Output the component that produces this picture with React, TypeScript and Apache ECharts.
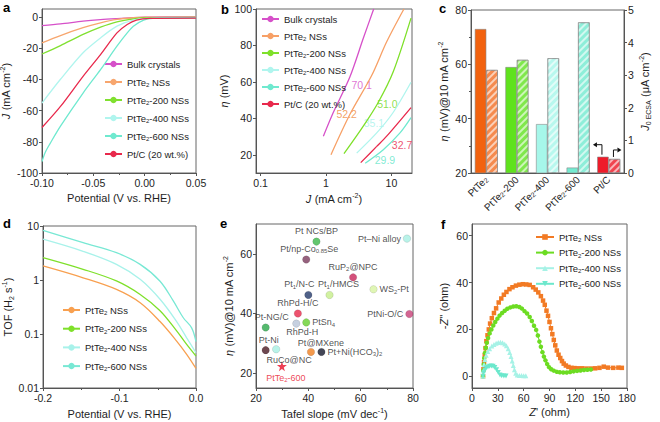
import React, { useEffect, useRef } from 'react';
import * as echarts from 'echarts';

const FONT = '"Liberation Sans", Arial, Helvetica, sans-serif';
const TXT = '#1e1e1e';
const AX = '#555555';

// ---------- Panel a: LSV curves [potential V vs RHE, J mA cm-2]
const aNames = ['Bulk crystals', 'PtTe{sub|2} NSs', 'PtTe{sub|2}-200 NSs', 'PtTe{sub|2}-400 NSs', 'PtTe{sub|2}-600 NSs', 'Pt/C (20 wt.%)'];
const aColors = ['#d650c9', '#f7a66e', '#80e030', '#b0f5ee', '#6fe9cf', '#e8294c'];
const aBulk = [[-0.1, -5.6], [-0.082, -4.5], [-0.06, -2.8], [-0.043, -1.8], [-0.027, -1.1], [-0.011, -0.5], [0, -0.2], [0.02, -0.05], [0.05, 0]];
const aPtTe2 = [[-0.1, -16.7], [-0.082, -12], [-0.06, -7], [-0.043, -3.9], [-0.027, -1.7], [-0.011, -0.6], [0.002, -0.2], [0.05, -0.2]];
const a200 = [[-0.1, -23.8], [-0.082, -18.4], [-0.06, -11.3], [-0.043, -6.6], [-0.027, -3.2], [-0.011, -1.3], [0.002, -0.6], [0.05, -0.4]];
const a400 = [[-0.1, -55.2], [-0.082, -40], [-0.06, -23], [-0.043, -13.5], [-0.027, -6], [-0.011, -2.1], [0.002, -1], [0.05, -0.6]];
const a600 = [[-0.1, -92.7], [-0.097, -87], [-0.092, -81], [-0.082, -70], [-0.06, -48.8], [-0.043, -33.8], [-0.027, -18.8], [-0.017, -10.3], [-0.011, -6], [-0.001, -2.1], [0.008, -1], [0.05, -0.6]];
const aPtC = [[-0.1, -70.9], [-0.082, -57.4], [-0.06, -38.1], [-0.043, -24.2], [-0.027, -10.3], [-0.017, -4.9], [-0.008, -2.1], [0.005, -1], [0.05, -0.8]];
const aData = [aBulk, aPtTe2, a200, a400, a600, aPtC];
const aYTicks = [-100, -80, -60, -40, -20, 0];

// ---------- Panel b: Tafel plots [J mA cm-2, overpotential mV]
const bColors = ['#d650c9', '#f7a066', '#7ee02a', '#b0f5ee', '#6fe9cf', '#e8294c'];
const bBulk = [[0.91, 30.2], [1.29, 43.2], [2.32, 62.8], [3.71, 83.9], [5.35, 100]];
const bPtTe2 = [[1.19, 20], [2.32, 42.2], [4.98, 63.5], [8.45, 82], [15.5, 100]];
const b200 = [[1.88, 20.6], [3.71, 35.7], [6.27, 48.7], [10.6, 65.4], [19.9, 95]];
const b400 = [[2.94, 20.9], [5.95, 32], [10.6, 43.2], [19.9, 59.8]];
const b600 = [[3.97, 15.4], [7.5, 22.8], [13.5, 32], [19.9, 40.4]];
const bPtC = [[3.39, 15.7], [5.95, 24.6], [8.45, 30.2], [19.9, 45.9]];
const bData = [bBulk, bPtTe2, b200, b400, b600, bPtC];
const bNotes = ['70.1', '52.2', '51.0', '35.1', '32.7', '29.9'];
const bNoteJ = [3.51, 2.07, 8.65, 5.4, 14.5, 7.96];
const bNoteEta = [58.3, 42.2, 47.8, 37.2, 25.6, 17.2];
const bNoteColors = ['#d650c9', '#f08a3a', '#6fd81a', '#a6f2ea', '#e8294c', '#5fe6c8'];
const bXTicks = [0.1, 1, 10];
const bYTicks = [20, 40, 60, 80, 100];

// ---------- Panel c: bars
const cCats = ['PtTe{sub|2}', 'PtTe{sub|2}-200', 'PtTe{sub|2}-400', 'PtTe{sub|2}-600', 'Pt/C'];
const cEta = [73, 59, 38, 22, 26];
const cJ0 = [3.16, 3.47, 3.52, 4.62, 0.43];
const cColors = ['#f2620f', '#5fe21d', '#a6f7ea', '#74ead0', '#ee1c2a'];
const cHatch = ['#f58a4e', '#80e84c', '#b8f8ee', '#8eeed9', '#f0444f'];

// ---------- Panel d: TOF [potential V vs RHE, TOF H2 s-1]
const dNames = ['PtTe{sub|2} NSs', 'PtTe{sub|2}-200 NSs', 'PtTe{sub|2}-400 NSs', 'PtTe{sub|2}-600 NSs'];
const dColors = ['#f8a050', '#7ee02a', '#a8f2ea', '#78e8d4'];
const dPtTe2 = [[-0.2, 1.82], [-0.1476, 1.1], [-0.104, 0.67], [-0.073, 0.38], [-0.047, 0.17], [-0.0253, 0.074], [-0.0122, 0.042], [0, 0.023]];
const d200 = [[-0.2, 2.6], [-0.1476, 1.58], [-0.104, 0.96], [-0.073, 0.54], [-0.047, 0.27], [-0.0253, 0.114], [-0.0122, 0.064], [0, 0.039]];
const d400 = [[-0.2, 5.7], [-0.1476, 3.4], [-0.104, 1.95], [-0.073, 1.03], [-0.047, 0.44], [-0.0253, 0.17], [-0.0122, 0.085], [0, 0.045]];
const d600 = [[-0.2, 8.3], [-0.1476, 4.9], [-0.104, 3.2], [-0.073, 1.95], [-0.047, 0.95], [-0.0297, 0.41], [-0.0166, 0.2], [-0.0057, 0.13], [0, 0.072]];
const dData = [dPtTe2, d200, d400, d600];

// ---------- Panel e: Tafel slope vs overpotential comparison
const eLabels = ['Pt NCs/BP', 'Pt/np-Co{sub|0.85}Se', 'Pt–Ni alloy', 'RuP{sub|2}@NPC', 'Pt{sub|1}/N-C', 'Pt{sub|1}/HMCS', 'WS{sub|2}-Pt', 'RhPd-H/C', 'PtNi-O/C', 'Pt-NG/C', 'RhPd-H', 'PtSn{sub|4}', 'Pt-Ni', 'RuCo@NC', 'Pt@MXene', 'Pt+Ni(HCO{sub|3}){sub|2}', 'PtTe{sub|2}-600'];
const eTafel = [43.1, 39.2, 77.7, 57.1, 40, 48.1, 64.9, 36, 78.6, 23.7, 35.4, 39.2, 23.7, 27.7, 41, 45, 29.9];
const eEta = [64.1, 58.1, 65.1, 52.1, 46.2, 46.2, 48.1, 40, 39.8, 35.3, 36.6, 37, 27.7, 28, 27.1, 27.1, 22.3];
const eColors = ['#3cb84a', '#7a3a5c', '#a8f0e4', '#c8245a', '#243a6a', '#c6ee8a', '#d8f4a2', '#e8284a', '#c84078', '#2aa84a', '#b8c4d8', '#66d030', '#4a1a24', '#a8f0e4', '#f08020', '#14182c', '#e8102a'];
const ePos = ['top', 'top', 'left', 'top', 'top', 'top', 'right', 'top', 'left', 'top', 'bottom', 'right', 'top', 'bottom', 'top', 'right', 'bottom'];
const eOff = [[0, 1], [3, 1], [0, 0], [0, 1], [-9, 1], [9, 1], [0, 0], [0, 1], [0, 0], [6, 1], [6, -3], [0, 0], [3, 1], [13, -1], [10, 3], [0, 0], [4, -1]];

// ---------- Panel f: Nyquist plots [Z' ohm, -Z'' ohm]
const fNames = ['PtTe{sub|2} NSs', 'PtTe{sub|2}-200 NSs', 'PtTe{sub|2}-400 NSs', 'PtTe{sub|2}-600 NSs'];
const fColors = ['#f27a24', '#6cdc22', '#a6f2e6', '#6ce8cc'];
const fSymbols = ['rect', 'circle', 'triangle', 'path://M0,0L10,0L5,9Z'];
const fPtTe2 = [[12.8, 0], [13.3, 3], [14, 6], [14.8, 9], [15.7, 12], [16.7, 15], [18, 17.5], [19.5, 20], [21, 22.5], [23, 24.8], [25.5, 27], [28, 29], [31, 31.5], [34, 33.2], [37, 34.8], [40, 36], [43.5, 37.2], [47, 38], [51, 38.7], [55, 39.1], [59, 39.3], [63, 39.2], [67, 39], [71, 38], [74, 37], [77, 35.8], [80, 34.2], [82.5, 32.3], [84.5, 30.5], [86.5, 28], [88.3, 25.8], [90, 23.2], [91.7, 20.5], [93.3, 18], [95, 15.5], [96.7, 13.2], [98.5, 11], [100.5, 9.2], [102.5, 7.8], [104.5, 6.5], [106.5, 5.4], [109, 4.6], [112, 4], [115.5, 3.6], [119, 3.5], [123, 3.4], [128, 3.4], [133, 3.3], [138, 3.3], [143, 3.4], [148, 3.6], [153, 4.1], [158, 3.7], [164, 3.6], [170, 3.7], [174, 3.6]];
const f200 = [[12.8, 0], [13.2, 2.5], [13.6, 5], [14.2, 7.7], [15, 10], [16, 12.2], [17.2, 14.3], [18.7, 16.3], [20.5, 18.3], [22.5, 20], [24.7, 21.7], [27, 23.2], [29.5, 24.6], [32, 25.9], [35, 27], [38, 28], [41, 28.8], [44.5, 29.4], [48, 29.8], [51.5, 29.9], [55, 29.6], [58, 28.9], [61, 27.8], [64, 26.8], [67, 25.3], [69.5, 23.6], [72, 21.6], [74.5, 19.8], [76.5, 17.4], [78.3, 14.8], [80, 12.6], [81.8, 10.3], [83.5, 8.4], [85.3, 6.8], [87.3, 5.2], [89.5, 3.9], [92, 3], [95, 2.4], [98.5, 1.9], [102, 1.7], [106, 1.6], [110, 1.6], [114, 1.8], [118, 2.1], [122, 2.3], [126, 2.5], [130, 2.7], [134, 2.8], [138, 2.9]];
const f400 = [[12.8, 0], [13.3, 2.5], [14, 5], [15, 7.2], [16.5, 9], [18.3, 10.6], [20.5, 11.8], [23, 12.9], [25.5, 13.6], [28, 14.1], [30.5, 14.4], [33, 14.5], [35.5, 14.3], [38, 13.8], [40, 13], [42, 11.8], [43.8, 10.2], [45.3, 8.4], [46.7, 6.5], [48, 4.6], [49.3, 2.8], [50.7, 1.3], [52.5, 0.5], [55, 0.3], [57.5, 0.3], [60, 0.2], [62.5, 0.2]];
const f600 = [[12.8, 0], [13.5, 1.5], [14.8, 2.7], [16.5, 3.5], [18.5, 4], [20.5, 4.3], [22.5, 4.4], [24.5, 4.3], [26.5, 3.8], [28.5, 2.8], [30.5, 1.6], [32.5, 0.6], [34.5, 0.2], [37, 0.1], [39.5, 0.1]];
const fData = [fPtTe2, f200, f400, f600];
const eYTicks = [20, 40, 60];
const fYTicks = [0, 20, 40, 60];

const panelLetters = ['a', 'b', 'c', 'd', 'e', 'f'];

const TICK_FS = 10.5;
const NAME_FS = 11;
const LEG_FS = 9.5;

function mkRich(color: string, size: number) {
  const s = Math.round(size * 0.68);
  return {
    i: { fontStyle: 'italic', color, fontSize: size, fontFamily: FONT, lineHeight: size + 3 },
    sub: { color, fontSize: s, fontFamily: FONT, lineHeight: 6, verticalAlign: 'bottom' },
    sup: { color, fontSize: s, fontFamily: FONT, lineHeight: 6, verticalAlign: 'top' },
  };
}

const tickStyle = { show: true, length: 3, lineStyle: { color: AX, width: 1 } };
const minor = { show: true, splitNumber: 2, length: 2, lineStyle: { color: AX, width: 1 } };

function axis(gridIndex: number, o: any) {
  const base: any = {
    gridIndex,
    axisLine: { show: true, onZero: false, lineStyle: { color: AX, width: 1 } },
    axisTick: tickStyle,
    axisLabel: { color: TXT, fontSize: TICK_FS, fontFamily: FONT, margin: 4 },
    splitLine: { show: false },
    nameLocation: 'middle',
    nameTextStyle: { color: TXT, fontSize: NAME_FS, fontFamily: FONT, lineHeight: NAME_FS + 3, rich: mkRich(TXT, NAME_FS) },
  };
  return {
    ...base,
    ...o,
    axisLabel: { ...base.axisLabel, ...(o.axisLabel || {}) },
    axisTick: { ...base.axisTick, ...(o.axisTick || {}) },
  };
}

function legendCfg(ids: string[], names: string[], left: number, top: number, gap: number, extra: any = {}) {
  return {
    data: ids,
    orient: 'vertical',
    left,
    top,
    itemWidth: 17,
    itemHeight: 8,
    itemGap: gap,
    padding: 0,
    selectedMode: false,
    formatter: (n: string) => names[Number(n.slice(1))],
    textStyle: { color: TXT, fontSize: LEG_FS, fontFamily: FONT, lineHeight: 12, rich: mkRich(TXT, LEG_FS) },
    ...extra,
  };
}

function buildOption() {
  const fmt2 = (v: number) => (Math.abs(v) < 1e-9 ? '0.00' : v.toFixed(2));
  const fmt1 = (v: number) => (Math.abs(v) < 1e-9 ? '0.0' : v.toFixed(1));
  const logFmt = (v: number) => (v < 0.05 ? '0.01' : v < 0.5 ? '0.1' : String(Math.round(v)));

  const grid = [
    { left: 42, right: 464, top: 9, bottom: 249 },
    { left: 256, right: 248, top: 9, bottom: 249 },
    { left: 471, right: 36, top: 10, bottom: 249 },
    { left: 43, right: 464, top: 226, bottom: 34 },
    { left: 256, right: 247, top: 224, bottom: 34 },
    { left: 472, right: 33, top: 224, bottom: 34 },
  ].map((g) => ({ ...g, show: true, borderColor: '#666', borderWidth: 1, backgroundColor: 'transparent', containLabel: false, outerBoundsMode: 'none' }));

  const xAxis = [
    axis(0, { type: 'value', min: -0.1, max: 0.05, interval: 0.05, minorTick: minor, axisLabel: { formatter: fmt2 }, name: 'Potential (V vs. RHE)', nameGap: 18 }),
    axis(1, { type: 'log', logBase: 10, min: 0.085, max: 20.6, axisLabel: { customValues: bXTicks, formatter: logFmt }, axisTick: { customValues: bXTicks }, name: '{i|J} (mA cm{sup|-2})', nameGap: 19 }),
    axis(2, {
      type: 'category', data: cCats,
      axisTick: { show: false },
      axisLabel: { rotate: 45, interval: 0, fontSize: 10, margin: 5, rich: mkRich(TXT, 10) },
    }),
    axis(3, { type: 'value', min: -0.2, max: 0, interval: 0.1, minorTick: minor, axisLabel: { formatter: fmt1 }, name: 'Potential (V vs. RHE)', nameGap: 19 }),
    axis(4, { type: 'value', min: 20, max: 80, interval: 20, minorTick: minor, name: 'Tafel slope (mV dec{sup|-1})', nameGap: 19 }),
    axis(5, { type: 'value', min: 0, max: 180, interval: 30, name: "{i|Z}' (ohm)", nameGap: 17 }),
  ];

  const yAxis = [
    axis(0, { type: 'value', min: -100, max: 5, axisLabel: { customValues: aYTicks }, axisTick: { customValues: aYTicks }, name: '{i|J} (mA cm{sup|-2})', nameGap: 23 }),
    axis(1, { type: 'value', min: 10, max: 100, axisLabel: { customValues: bYTicks }, axisTick: { customValues: bYTicks }, name: '{i|η} (mV)', nameGap: 21 }),
    axis(2, { type: 'value', min: 20, max: 80, interval: 20, minorTick: minor, name: '{i|η} (mV)@10 mA cm{sup|-2}', nameGap: 18 }),
    axis(2, { type: 'value', position: 'right', min: 0, max: 5, interval: 1, name: '{i|J}{sub|0 ECSA} (μA cm{sup|-2})', nameGap: 11, nameRotate: 90 }),
    axis(3, { type: 'log', logBase: 10, min: 0.01, max: 10, axisLabel: { formatter: logFmt }, name: 'TOF (H{sub|2} s{sup|-1})', nameGap: 26 }),
    axis(4, { type: 'value', min: 15, max: 70, axisLabel: { customValues: eYTicks }, axisTick: { customValues: eYTicks }, name: '{i|η} (mV)@10 mA cm{sup|-2}', nameGap: 20 }),
    axis(5, { type: 'value', min: -5, max: 65, axisLabel: { customValues: fYTicks }, axisTick: { customValues: fYTicks }, name: "-{i|Z}'' (ohm)", nameGap: 21 }),
  ];

  const series: any[] = [];
  aData.forEach((d, i) => {
    series.push({ name: 'a' + i, type: 'line', xAxisIndex: 0, yAxisIndex: 0, data: d, symbol: 'none', smooth: 0.3, lineStyle: { color: aColors[i], width: 1.3 }, itemStyle: { color: aColors[i] }, z: 2 + i });
  });
  bData.forEach((d, i) => {
    series.push({ name: 'b' + i, type: 'line', xAxisIndex: 1, yAxisIndex: 1, data: d, symbol: 'none', smooth: 0.3, lineStyle: { color: bColors[i], width: 1.3 }, itemStyle: { color: bColors[i] } });
  });
  series.push({
    name: 'bnotes', type: 'scatter', xAxisIndex: 1, yAxisIndex: 1, symbolSize: 1, silent: true,
    itemStyle: { color: 'rgba(0,0,0,0)' },
    data: bNotes.map((t, i) => ({ value: [bNoteJ[i], bNoteEta[i]], label: { show: true, position: 'inside', formatter: t, color: bNoteColors[i], fontSize: 10.5, fontFamily: FONT } })),
  });
  series.push({
    name: 'c0', type: 'bar', xAxisIndex: 2, yAxisIndex: 2, barWidth: 11.5, barGap: '0%',
    itemStyle: { borderColor: '#8a8a8a', borderWidth: 0.6 },
    data: cEta.map((v, i) => ({ value: v, itemStyle: { color: cColors[i] } })),
  });
  series.push({
    name: 'c1', type: 'bar', xAxisIndex: 2, yAxisIndex: 3, barWidth: 11.5, barGap: '0%',
    itemStyle: { borderColor: '#8a8a8a', borderWidth: 0.6 },
    data: cJ0.map((v, i) => ({
      value: v,
      itemStyle: {
        color: cHatch[i],
        decal: { symbol: 'rect', symbolSize: 1, color: 'rgba(255,255,255,0.6)', dashArrayX: [1, 0], dashArrayY: [2, 3], rotation: -Math.PI / 4 },
      },
    })),
  });
  dData.forEach((d, i) => {
    series.push({ name: 'd' + i, type: 'line', xAxisIndex: 3, yAxisIndex: 4, data: d, symbol: 'none', smooth: 0.35, lineStyle: { color: dColors[i], width: 1.3 }, itemStyle: { color: dColors[i] } });
  });
  series.push({
    name: 'e', type: 'scatter', xAxisIndex: 4, yAxisIndex: 5,
    data: eLabels.map((t, i) => {
      const star = i === eLabels.length - 1;
      const col = star ? '#e8102a' : TXT;
      return {
        value: [eTafel[i], eEta[i]],
        symbol: star ? 'path://M50,0L61,35L98,35L68,57L79,91L50,70L21,91L32,57L2,35L39,35Z' : 'circle',
        symbolSize: star ? 10 : 7.5,
        itemStyle: { color: eColors[i], borderColor: 'rgba(0,0,0,0.25)', borderWidth: star ? 0 : 0.5 },
        label: { show: true, position: ePos[i], offset: eOff[i], distance: 2, formatter: t, color: col, fontSize: 9, fontFamily: FONT, lineHeight: 11, rich: mkRich(col, 9) },
      };
    }),
  });
  fData.forEach((d, i) => {
    series.push({ name: 'f' + i, type: 'line', xAxisIndex: 5, yAxisIndex: 6, data: d, symbol: fSymbols[i], symbolSize: i >= 2 ? 5 : 4.5, showSymbol: true, lineStyle: { color: fColors[i], width: 1 }, itemStyle: { color: fColors[i] } });
  });

  const titleLeft = [3, 221, 439, 3, 220, 441];
  const titleTop = [1, 3, 2, 217, 217, 218];

  return {
    animation: false,
    backgroundColor: '#ffffff',
    textStyle: { fontFamily: FONT },
    title: panelLetters.map((t, i) => ({ text: t, left: titleLeft[i], top: titleTop[i], padding: 0, textStyle: { fontSize: 13, fontWeight: 'bold', fontFamily: FONT, color: '#000' } })),
    grid,
    xAxis,
    yAxis,
    legend: [
      legendCfg(aData.map((_, i) => 'a' + i), aNames, 104, 58, 6),
      legendCfg(bData.map((_, i) => 'b' + i), aNames, 261, 13, 5),
      legendCfg(dData.map((_, i) => 'd' + i), dNames, 62, 304, 6.7),
      legendCfg(fData.map((_, i) => 'f' + i), fNames, 535, 231, 3.6, { itemWidth: 18, itemHeight: 7 }),
    ],
    series,
  };
}

export default function App() {
  const ref = useRef<HTMLDivElement>(null);
  useEffect(() => {
    document.body.style.margin = '0';
    const chart = echarts.init(ref.current!, undefined, { renderer: 'svg' });
    chart.setOption(buildOption() as any);
    // Arrows showing which axis each Pt/C bar belongs to (panel c)
    const w = 11.5;
    const last = cCats.length - 1;
    const pl = chart.convertToPixel({ xAxisIndex: 2, yAxisIndex: 2 } as any, [last, cEta[last]]) as any;
    const pr = chart.convertToPixel({ xAxisIndex: 2, yAxisIndex: 3 } as any, [last, cJ0[last]]) as any;
    if (pl && pr) {
      const lx = pl[0] - w / 2 - 1;
      const ly = pl[1];
      const rx = pl[0] + w / 2 - 1;
      const ry = pr[1];
      const st = { stroke: '#111', lineWidth: 1, fill: null };
      chart.setOption({
        graphic: [
          { type: 'polyline', shape: { points: [[lx, ly - 2], [lx, ly - 12], [lx - 5, ly - 12]] }, style: st, z: 100 },
          { type: 'polygon', shape: { points: [[lx - 9, ly - 12], [lx - 5, ly - 14.5], [lx - 5, ly - 9.5]] }, style: { fill: '#111' }, z: 100 },
          { type: 'polyline', shape: { points: [[rx, ry - 2], [rx, ry - 9], [rx + 4, ry - 9]] }, style: st, z: 100 },
          { type: 'polygon', shape: { points: [[rx + 8, ry - 9], [rx + 4, ry - 11.5], [rx + 4, ry - 6.5]] }, style: { fill: '#111' }, z: 100 },
        ],
      } as any);
    }
    return () => chart.dispose();
  }, []);
  return <div ref={ref} style={{ width: 660, height: 422, background: '#fff' }} />;
}
